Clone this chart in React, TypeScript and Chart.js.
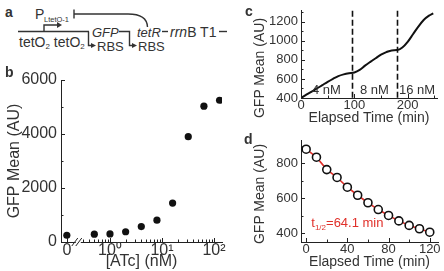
import React, { useEffect, useRef } from "react";
import { Chart, registerables } from "chart.js";

Chart.register(...registerables);

const FONT = "'Liberation Sans', Arial, Helvetica, sans-serif";
const INK = "#333333";
const AXIS = "#222222";
const MARK = "#111111";
const RED = "#e0302a";

// b: GFP response to inducer concentration
const atcConc = [0, 0.5, 1, 2, 4, 8, 16, 32, 64, 128];
const atcGfp = [250, 290, 300, 380, 570, 810, 1440, 3900, 5030, 5250];
const atcTickConc = [0, 1, 10, 100];
const atcTickLabels = ["0", "10⁰", "10¹", "10²"];
const atcMinorConc = [0.3, 0.4, 0.5, 0.6, 0.7, 0.8, 0.9, 2, 3, 4, 5, 6, 7, 8, 9, 20, 30, 40, 50, 60, 70, 80, 90];
const atcYTicks = [0, 2000, 4000, 6000];
const atcYMinor = [1000, 3000, 5000];

// c: stepwise induction time course
const stepTime = [0, 10, 20, 30, 40, 50, 60, 70, 80, 90, 100, 110, 120, 130, 140, 150, 160, 170, 180, 190, 200, 210, 220, 230, 240, 248];
const stepGfp = [400, 435, 468, 500, 535, 570, 602, 630, 648, 660, 668, 695, 740, 780, 818, 855, 882, 900, 903, 930, 990, 1070, 1150, 1220, 1265, 1290];
const stepSwitchTimes = [95, 180];
const stepDoseLabels = ["4 nM", "8 nM", "16 nM"];
const stepXTicks = [0, 100, 200];
const stepXMinor = [50, 150, 250];
const stepYTicks = [400, 600, 800, 1000, 1200];
const stepYMinor = [500, 700, 900, 1100, 1300];

// d: decay after inducer removal
const decayTime = [0, 10, 20, 30, 40, 50, 60, 70, 80, 90, 100, 110, 120];
const decayGfp = [882, 836, 765, 720, 664, 618, 575, 536, 502, 471, 445, 426, 406];
const decayXTicks = [0, 40, 80, 120];
const decayXMinor = [20, 60, 100];
const decayYTicks = [400, 600, 800];
const decayYMinor = [500, 700, 900];
const halfLifeValue = "=64.1 min";

// position of the "0" column and of the axis break on the log axis
const ZERO_POS = -0.83;
const BREAK_POS = -0.6;
const concPos = (c: number) => (c > 0 ? Math.log10(c) : ZERO_POS);

Chart.defaults.font.family = FONT;
Chart.defaults.font.size = 13;
Chart.defaults.color = INK;

type TickSpec = { xMajor: number[]; xMinor: number[]; yMajor: number[]; yMinor: number[] };

function inwardTicks(spec: TickSpec) {
  return {
    id: "inwardTicks",
    afterDraw(chart: any) {
      const { ctx, chartArea: a } = chart;
      const xs = chart.scales.x;
      const ys = chart.scales.y;
      ctx.save();
      ctx.strokeStyle = AXIS;
      ctx.lineWidth = 1;
      const tx = (vals: number[], len: number) =>
        vals.forEach((v) => {
          const p = Math.round(xs.getPixelForValue(v)) + 0.5;
          if (p < a.left || p > a.right) return;
          ctx.beginPath();
          ctx.moveTo(p, a.bottom);
          ctx.lineTo(p, a.bottom - len);
          ctx.stroke();
        });
      const ty = (vals: number[], len: number) =>
        vals.forEach((v) => {
          const p = Math.round(ys.getPixelForValue(v)) + 0.5;
          if (p < a.top - 1 || p > a.bottom + 1) return;
          ctx.beginPath();
          ctx.moveTo(a.left, p);
          ctx.lineTo(a.left + len, p);
          ctx.stroke();
        });
      tx(spec.xMajor, 4);
      tx(spec.xMinor, 2.5);
      ty(spec.yMajor, 4);
      ty(spec.yMinor, 2.5);
      ctx.restore();
    },
  };
}

function fixedTicks(values: number[]) {
  return (scale: any) => {
    scale.ticks = values.map((value) => ({ value }));
  };
}

type AxisText = { tickSize: number; tickPad: number; titleSize: number; titlePad: number };

function xAxis(min: number, max: number, ticks: number[], labels: (v: number, i: number) => string, title: string, height: number, t: AxisText) {
  return {
    type: "linear" as const,
    min,
    max,
    afterBuildTicks: fixedTicks(ticks),
    afterFit: (s: any) => {
      s.height = height;
    },
    grid: { display: false, drawTicks: false },
    border: { display: true, color: AXIS, width: 1 },
    ticks: {
      padding: t.tickPad,
      maxRotation: 0,
      autoSkip: false,
      color: INK,
      font: { size: t.tickSize, lineHeight: 1.2 },
      callback: (v: number, i: number) => labels(v, i),
    },
    title: { display: true, text: title, color: INK, font: { size: t.titleSize, lineHeight: 1.2 }, padding: { top: 0, bottom: t.titlePad } },
  };
}

function yAxis(min: number, max: number, ticks: number[], width: number, t: AxisText, title?: string) {
  return {
    type: "linear" as const,
    min,
    max,
    afterBuildTicks: fixedTicks(ticks),
    afterFit: (s: any) => {
      s.width = width;
    },
    grid: { display: false, drawTicks: false },
    border: { display: true, color: AXIS, width: 1 },
    ticks: { padding: t.tickPad, autoSkip: false, color: INK, font: { size: t.tickSize, lineHeight: 1.2 }, callback: (v: number) => String(v) },
    title: title
      ? { display: true, text: title, color: INK, font: { size: t.titleSize, lineHeight: 1.2 }, padding: { top: t.titlePad, bottom: 0 } }
      : { display: false },
  };
}

const common = {
  responsive: false,
  animation: false as const,
  events: [],
  plugins: { legend: { display: false }, tooltip: { enabled: false } },
};

function makeDose(canvas: HTMLCanvasElement) {
  const axisBreak = {
    id: "axisBreak",
    afterDraw(chart: any) {
      const { ctx, chartArea: a } = chart;
      const p = chart.scales.x.getPixelForValue(BREAK_POS);
      ctx.save();
      ctx.fillStyle = "#ffffff";
      ctx.fillRect(p - 3, a.bottom - 2, 5, 4);
      ctx.strokeStyle = AXIS;
      ctx.lineWidth = 1;
      [p - 4, p].forEach((q) => {
        ctx.beginPath();
        ctx.moveTo(q - 3, a.bottom + 4);
        ctx.lineTo(q + 3, a.bottom - 4);
        ctx.stroke();
      });
      ctx.restore();
    },
  };
  return new Chart(canvas, {
    type: "scatter",
    data: {
      datasets: [
        {
          data: atcConc.map((c, i) => ({ x: concPos(c), y: atcGfp[i] })),
          backgroundColor: MARK,
          borderColor: MARK,
          pointRadius: 3.6,
          borderWidth: 0,
        },
      ],
    },
    options: {
      ...common,
      layout: { padding: { left: 0, top: 20, right: 13, bottom: 0 } },
      scales: {
        x: xAxis(-0.942, 2.154, atcTickConc.map(concPos), (_v, i) => atcTickLabels[i], "[ATc] (nM)", 29, { tickSize: 16, tickPad: -1, titleSize: 16, titlePad: 0 }),
        y: yAxis(0, 6000, atcYTicks, 61, { tickSize: 16, tickPad: 4, titleSize: 16, titlePad: 4.5 }, "GFP Mean (AU)"),
      },
    } as any,
    plugins: [
      inwardTicks({ xMajor: atcTickConc.map(concPos), xMinor: atcMinorConc.map(concPos), yMajor: atcYTicks, yMinor: atcYMinor }),
      axisBreak,
    ],
  });
}

function makeSteps(canvas: HTMLCanvasElement) {
  const doseMarks = {
    id: "doseMarks",
    afterDatasetsDraw(chart: any) {
      const { ctx, chartArea: a } = chart;
      const x = chart.scales.x;
      ctx.save();
      ctx.strokeStyle = MARK;
      ctx.lineWidth = 1.6;
      ctx.setLineDash([6, 3]);
      stepSwitchTimes.forEach((t) => {
        const p = Math.round(x.getPixelForValue(t)) + 0.5;
        ctx.beginPath();
        ctx.moveTo(p, a.top);
        ctx.lineTo(p, a.bottom);
        ctx.stroke();
      });
      ctx.setLineDash([]);
      const edges = [x.min, ...stepSwitchTimes, x.max];
      ctx.font = `13px ${FONT}`;
      ctx.fillStyle = INK;
      ctx.textAlign = "center";
      ctx.textBaseline = "middle";
      stepDoseLabels.forEach((label, i) => {
        const cx = (x.getPixelForValue(edges[i]) + x.getPixelForValue(edges[i + 1])) / 2;
        ctx.fillText(label, cx, a.bottom - 8);
      });
      ctx.restore();
    },
  };
  return new Chart(canvas, {
    type: "line",
    data: {
      datasets: [
        {
          data: stepTime.map((t, i) => ({ x: t, y: stepGfp[i] })),
          borderColor: MARK,
          borderWidth: 2,
          pointRadius: 0,
          cubicInterpolationMode: "monotone",
          fill: false,
        },
      ],
    },
    options: {
      ...common,
      layout: { padding: { left: 0, top: 3, right: 7, bottom: 0 } },
      scales: {
        x: xAxis(0, 255, stepXTicks, (v) => String(v), "Elapsed Time (min)", 32, { tickSize: 13, tickPad: 0, titleSize: 14, titlePad: 3.5 }),
        y: yAxis(400, 1316, stepYTicks, 61, { tickSize: 13, tickPad: 3, titleSize: 14, titlePad: 0 }),
      },
    } as any,
    plugins: [inwardTicks({ xMajor: stepXTicks, xMinor: stepXMinor, yMajor: stepYTicks, yMinor: stepYMinor }), doseMarks],
  });
}

function makeDecay(canvas: HTMLCanvasElement) {
  const halfLifeLabel = {
    id: "halfLifeLabel",
    afterDatasetsDraw(chart: any) {
      const { ctx } = chart;
      const px = chart.scales.x.getPixelForValue(5);
      const py = chart.scales.y.getPixelForValue(434);
      ctx.save();
      ctx.fillStyle = RED;
      ctx.textBaseline = "alphabetic";
      ctx.textAlign = "left";
      ctx.font = `13px ${FONT}`;
      ctx.fillText("t", px, py);
      let cx = px + ctx.measureText("t").width;
      ctx.font = `8px ${FONT}`;
      ctx.fillText("1/2", cx, py + 3);
      cx += ctx.measureText("1/2").width;
      ctx.font = `13px ${FONT}`;
      ctx.fillText(halfLifeValue, cx, py);
      ctx.restore();
    },
  };
  const pts = decayTime.map((t, i) => ({ x: t, y: decayGfp[i] }));
  return new Chart(canvas, {
    type: "line",
    data: {
      datasets: [
        {
          data: pts,
          borderColor: MARK,
          backgroundColor: "#ffffff",
          showLine: false,
          pointRadius: 4,
          pointBorderWidth: 1.6,
          order: 1,
        },
        {
          data: pts,
          borderColor: RED,
          borderWidth: 1.6,
          pointRadius: 0,
          tension: 0,
          order: 2,
        },
      ],
    },
    options: {
      ...common,
      layout: { padding: { left: 0, top: 5, right: 6, bottom: 0 } },
      scales: {
        x: xAxis(-5, 128, decayXTicks, (v) => String(v), "Elapsed Time (min)", 29, { tickSize: 13, tickPad: 0, titleSize: 14, titlePad: 0 }),
        y: yAxis(350, 930, decayYTicks, 61, { tickSize: 13, tickPad: 3, titleSize: 14, titlePad: 0 }),
      },
    } as any,
    plugins: [inwardTicks({ xMajor: decayXTicks, xMinor: decayXMinor, yMajor: decayYTicks, yMinor: decayYMinor }), halfLifeLabel],
  });
}

function ChartCanvas({ left, top, width, height, make }: { left: number; top: number; width: number; height: number; make: (c: HTMLCanvasElement) => Chart }) {
  const ref = useRef<HTMLCanvasElement>(null);
  useEffect(() => {
    const chart = make(ref.current as HTMLCanvasElement);
    return () => chart.destroy();
  }, [make]);
  return <canvas ref={ref} width={width} height={height} style={{ position: "absolute", left, top, width, height }} />;
}

function VerticalLabel({ cx, cy, text }: { cx: number; cy: number; text: string }) {
  return (
    <div
      style={{
        position: "absolute",
        left: cx,
        top: cy,
        transform: "translate(-50%, -50%) rotate(-90deg)",
        whiteSpace: "nowrap",
        font: `14px ${FONT}`,
        lineHeight: "16px",
        color: INK,
      }}
    >
      {text}
    </div>
  );
}

function Circuit() {
  return (
    <svg width={240} height={60} style={{ position: "absolute", left: 0, top: 0 }} fontFamily={FONT} fill={INK}>
      <text x={35} y={18.5} fontSize={14}>P</text>
      <text x={44} y={22} fontSize={7.5}>LtetO-1</text>
      <g stroke={INK} strokeWidth={1.4} fill="none">
        <path d="M74 9.5 V18.5" />
        <path d="M74 14 H128 Q147 14 147.5 27" />
        <path d="M18 31.5 H89" />
        <path d="M44 31.5 V25 H58" />
        <path d="M88.5 31.5 V45.5 H92" />
        <path d="M119 31.5 H129.5 V45.5 H133" />
        <path d="M162 31.5 H168" />
        <path d="M219 31.5 H227" />
      </g>
      <polygon points="57,22 62,25 57,28" />
      <polygon points="91,43 96,45.5 91,48" />
      <polygon points="132,43 137,45.5 132,48" />
      <text x={92} y={36.5} fontSize={13} fontStyle="italic">GFP</text>
      <text x={137} y={36.5} fontSize={13} fontStyle="italic">tetR</text>
      <text x={170} y={36.5} fontSize={14}>
        <tspan fontStyle="italic">rrn</tspan>B T1
      </text>
      <text x={19} y={47} fontSize={14}>
        tetO<tspan fontSize={8} dy={2}>2</tspan>
        <tspan dy={-2}> tetO</tspan>
        <tspan fontSize={8} dy={2}>2</tspan>
      </text>
      <text x={97} y={51} fontSize={13}>RBS</text>
      <text x={138} y={51} fontSize={13}>RBS</text>
    </svg>
  );
}

function PanelLetter({ x, y, children }: { x: number; y: number; children: string }) {
  return (
    <div style={{ position: "absolute", left: x, top: y, font: `bold 14px ${FONT}`, lineHeight: "14px", color: INK }}>{children}</div>
  );
}

export default function App() {
  return (
    <div style={{ position: "absolute", left: 0, top: 0, width: 444, height: 271, background: "#ffffff", overflow: "hidden" }}>
      <Circuit />
      <ChartCanvas left={0} top={60} width={235} height={211} make={makeDose} />
      <ChartCanvas left={240} top={0} width={204} height={130} make={makeSteps} />
      <ChartCanvas left={240} top={130} width={204} height={141} make={makeDecay} />
      <VerticalLabel cx={259} cy={68} text="GFP Mean (AU)" />
      <VerticalLabel cx={259} cy={194} text="GFP Mean (AU)" />
      <PanelLetter x={5} y={5}>a</PanelLetter>
      <PanelLetter x={5} y={65}>b</PanelLetter>
      <PanelLetter x={245} y={4}>c</PanelLetter>
      <PanelLetter x={244} y={132}>d</PanelLetter>
    </div>
  );
}
